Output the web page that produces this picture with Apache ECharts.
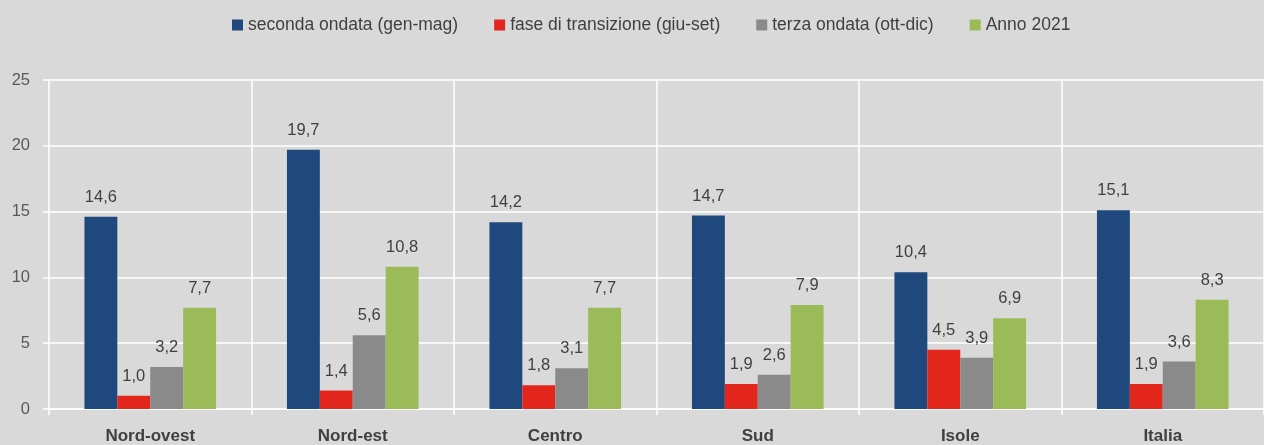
<!DOCTYPE html>
<html><head><meta charset="utf-8">
<script src="https://cdn.jsdelivr.net/npm/echarts@6/dist/echarts.min.js"></script>
<style>html,body{margin:0;padding:0;background:#d9d9d9;}#c{width:1264px;height:445px;}</style>
</head><body><div id="c"></div>
<script>
const categories = ['Nord-ovest','Nord-est','Centro','Sud','Isole','Italia'];
const seriesNames = ['seconda ondata (gen-mag)','fase di transizione (giu-set)','terza ondata (ott-dic)','Anno 2021'];
const seconda = [14.6,19.7,14.2,14.7,10.4,15.1];
const transizione = [1.0,1.4,1.8,1.9,4.5,1.9];
const terza = [3.2,5.6,3.1,2.6,3.9,3.6];
const anno2021 = [7.7,10.8,7.7,7.9,6.9,8.3];
const colors = ['#1f497d','#e3261b','#8a8a8a','#9bbb59'];
const FONT = '"Liberation Sans",Arial,sans-serif';
const data = [seconda, transizione, terza, anno2021];
const chart = echarts.init(document.getElementById('c'));
chart.setOption({
  backgroundColor:'#d9d9d9',
  animation:false,
  textStyle:{fontFamily:FONT},
  legend:{top:11,left:227,itemWidth:11,itemHeight:11,itemGap:36,
    icon:'rect',textStyle:{fontSize:17.5,color:'#404040',fontFamily:FONT},
    data:seriesNames},
  grid:{left:49,top:80,width:1224,height:330,containLabel:false},
  xAxis:{type:'category',data:categories,
    axisLine:{lineStyle:{color:'#ffffff',width:1.5}},
    axisTick:{show:true,length:6,lineStyle:{color:'#ffffff',width:1.5}},
    splitLine:{show:true,lineStyle:{color:'#ffffff',width:1.5}},
    axisLabel:{fontSize:17,fontWeight:'bold',color:'#404040',margin:19,fontFamily:FONT}},
  yAxis:{type:'value',min:0,max:25,interval:5,
    axisLine:{show:false},
    axisTick:{show:true,length:6,lineStyle:{color:'#ffffff',width:1.5}},
    splitLine:{show:true,lineStyle:{color:'#ffffff',width:1.5}},
    axisLabel:{fontSize:16.5,color:'#595959',margin:19,fontFamily:FONT}},
  series: seriesNames.map((n,i)=>({
    name:n,type:'bar',data:data[i],barGap:'0%',barCategoryGap:'35%',
    itemStyle:{color:colors[i]},
    label:{show:true,position:'top',distance:11,fontSize:16.5,color:'#404040',fontFamily:FONT,
      formatter:p=>p.value.toFixed(1).replace('.',',')}
  }))
});
</script></body></html>
